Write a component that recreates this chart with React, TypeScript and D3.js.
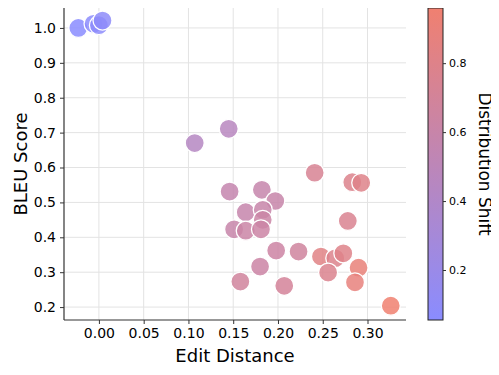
import { useEffect, useRef } from "react";
import * as d3 from "d3";

// edit distance / bleu / distribution shift
const editDistance = [
  -0.023, -0.006, 0.0, 0.004,
  0.107, 0.145,
  0.241, 0.146, 0.182, 0.197, 0.164, 0.183, 0.183, 0.151, 0.164, 0.181,
  0.198, 0.223, 0.180, 0.158, 0.207,
  0.283, 0.293, 0.278, 0.248, 0.264, 0.273, 0.256, 0.290, 0.286, 0.326,
];
const bleuScore = [
  1.0, 1.012, 1.008, 1.021,
  0.670, 0.711,
  0.585, 0.531, 0.536, 0.504, 0.472, 0.479, 0.450, 0.423, 0.419, 0.423,
  0.362, 0.359, 0.316, 0.273, 0.261,
  0.558, 0.556, 0.447, 0.345, 0.340, 0.354, 0.299, 0.313, 0.271, 0.204,
];
const distShift = [
  0.055, 0.07, 0.08, 0.09,
  0.44, 0.46,
  0.74, 0.57, 0.58, 0.6, 0.58, 0.6, 0.62, 0.6, 0.62, 0.63,
  0.64, 0.67, 0.63, 0.68, 0.7,
  0.78, 0.8, 0.76, 0.83, 0.78, 0.8, 0.77, 0.9, 0.88, 0.96,
];

const xTicks = [0.0, 0.05, 0.1, 0.15, 0.2, 0.25, 0.3];
const yTicks = [0.2, 0.3, 0.4, 0.5, 0.6, 0.7, 0.8, 0.9, 1.0];
const cTicks = [0.2, 0.4, 0.6, 0.8];

const W = 499;
const H = 375;
const font = "DejaVu Sans, sans-serif";

export default function App() {
  const ref = useRef<SVGSVGElement>(null);

  useEffect(() => {
    const svg = d3.select(ref.current);
    svg.selectAll("*").remove();

    const x = d3.scaleLinear().domain([-0.039, 0.343]).range([64, 406]);
    const y = d3.scaleLinear().domain([0.163, 1.06]).range([320, 7]);
    const cmin = d3.min(distShift) as number;
    const cmax = d3.max(distShift) as number;
    const color = d3.scaleLinear<string>()
      .domain([cmin, cmax])
      .range(["#8a8cff", "#f08070"])
      .interpolate(d3.interpolateRgb);

    const g = svg.append("g");

    // grid
    g.selectAll(".gx").data(xTicks).enter().append("line")
      .attr("x1", d => x(d)).attr("x2", d => x(d))
      .attr("y1", 7).attr("y2", 320)
      .attr("stroke", "#e3e3e3").attr("stroke-width", 1);
    g.selectAll(".gy").data(yTicks).enter().append("line")
      .attr("x1", 64).attr("x2", 406)
      .attr("y1", d => y(d)).attr("y2", d => y(d))
      .attr("stroke", "#e3e3e3").attr("stroke-width", 1);

    // axes
    const xAxis = g.append("g").attr("transform", "translate(0,320)")
      .call(d3.axisBottom(x).tickValues(xTicks).tickFormat(d3.format(".2f")).tickSizeOuter(0).tickSize(4).tickPadding(4));
    const yAxis = g.append("g").attr("transform", "translate(64,0)")
      .call(d3.axisLeft(y).tickValues(yTicks).tickFormat(d3.format(".1f")).tickSizeOuter(0).tickSize(4).tickPadding(4));
    [xAxis, yAxis].forEach(a => {
      a.selectAll("text").attr("font-family", font).attr("font-size", 14).attr("fill", "#000");
      a.select(".domain").attr("stroke", "#333").attr("stroke-width", 1.2);
      a.selectAll(".tick line").attr("stroke", "#333");
    });
    xAxis.select(".domain").attr("d", "M64,0H406");
    yAxis.select(".domain").attr("d", "M0,320V7");

    // points
    const pts = d3.range(editDistance.length);
    g.selectAll(".dot").data(pts).enter().append("circle")
      .attr("cx", i => x(editDistance[i]))
      .attr("cy", i => y(bleuScore[i]))
      .attr("r", 9.5)
      .attr("fill", i => color(distShift[i]))
      .attr("fill-opacity", 0.85)
      .attr("stroke", "#fff")
      .attr("stroke-width", 1.3);

    // axis labels
    g.append("text").attr("x", 235).attr("y", 362).attr("text-anchor", "middle")
      .attr("font-family", font).attr("font-size", 18).text("Edit Distance");
    g.append("text").attr("transform", "translate(27,164) rotate(-90)").attr("text-anchor", "middle")
      .attr("font-family", font).attr("font-size", 18).text("BLEU Score");

    // colorbar
    const cy = d3.scaleLinear().domain([cmin, cmax]).range([320, 8]);
    const defs = svg.append("defs");
    const grad = defs.append("linearGradient").attr("id", "cbar")
      .attr("x1", 0).attr("x2", 0).attr("y1", 1).attr("y2", 0);
    grad.append("stop").attr("offset", "0%").attr("stop-color", color(cmin));
    grad.append("stop").attr("offset", "100%").attr("stop-color", color(cmax));
    g.append("rect").attr("x", 428).attr("y", 8).attr("width", 15).attr("height", 312)
      .attr("fill", "url(#cbar)").attr("stroke", "#222").attr("stroke-width", 1);
    const cAxis = g.append("g").attr("transform", "translate(443,0)")
      .call(d3.axisRight(cy).tickValues(cTicks).tickFormat(d3.format(".1f")).tickSize(3).tickPadding(3));
    cAxis.select(".domain").remove();
    cAxis.selectAll("text").attr("font-family", font).attr("font-size", 11).attr("fill", "#000");
    cAxis.selectAll(".tick line").attr("stroke", "#333");
    g.append("text").attr("transform", "translate(479,164) rotate(90)").attr("text-anchor", "middle")
      .attr("font-family", font).attr("font-size", 17).text("Distribution Shift");
  }, []);

  return (
    <div style={{ margin: -8 }}>
      <svg ref={ref} width={W} height={H} style={{ display: "block", background: "#fff" }} />
    </div>
  );
}
